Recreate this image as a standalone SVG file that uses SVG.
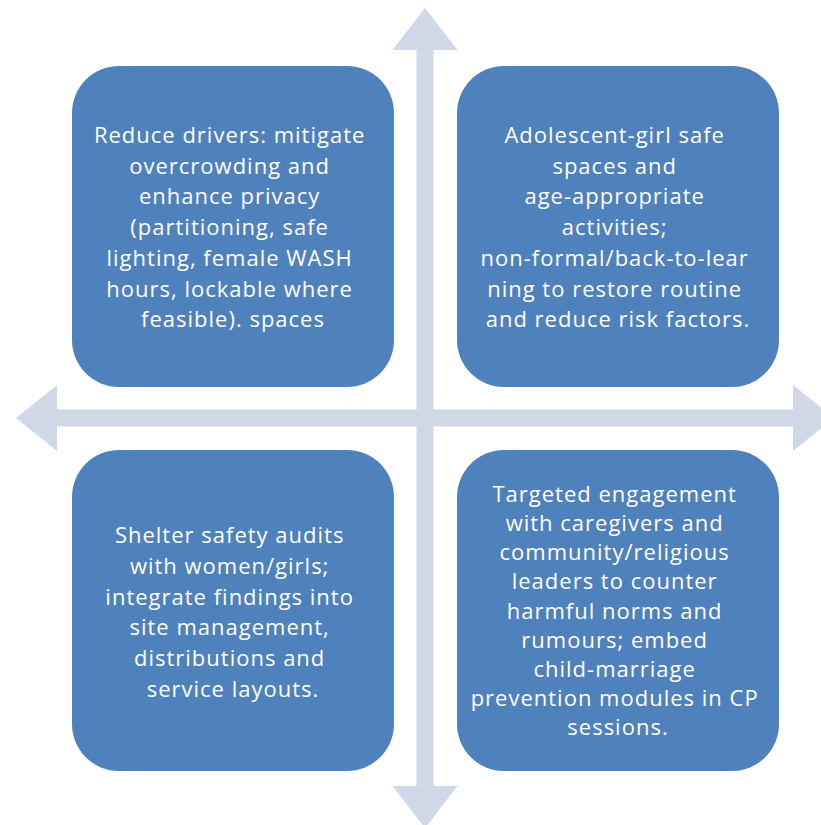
<svg xmlns="http://www.w3.org/2000/svg" width="821" height="825" viewBox="0 0 821 825">
  <style>
    .axis { fill: #D0D8E8; }
    .box { fill: #4F81BD; }
    .lbl { fill: #FFFFFF; font-family: "Open Sans", "Liberation Sans", sans-serif; font-size: 22px; letter-spacing: 1px; text-anchor: middle; }
  </style>
  <rect width="821" height="825" fill="#FFFFFF"/>
  <g id="connectors">
    <path class="axis" d="M425,8 L457.5,50 L433.5,50 L433.5,786 L457.5,786 L425,828 L392.5,786 L416.5,786 L416.5,50 L392.5,50 Z"/>
    <path class="axis" d="M16,418 L57,385 L57,409.5 L793,409.5 L793,385 L834,418 L793,451 L793,426.5 L57,426.5 L57,451 Z"/>
  </g>
  <g id="node-top-left">
    <rect class="box" x="72" y="66" width="322" height="321" rx="47" ry="47"/>
    <text class="lbl">
      <tspan x="233" y="143">Reduce drivers: mitigate</tspan>
      <tspan x="233" y="173.7">overcrowding and</tspan>
      <tspan x="233" y="204.4">enhance privacy</tspan>
      <tspan x="233" y="235.1">(partitioning, safe</tspan>
      <tspan x="233" y="265.8">lighting, female WASH</tspan>
      <tspan x="233" y="296.5">hours, lockable where</tspan>
      <tspan x="233" y="327.2">feasible). spaces</tspan>
    </text>
  </g>
  <g id="node-top-right">
    <rect class="box" x="457" y="66" width="322" height="321" rx="47" ry="47"/>
    <text class="lbl">
      <tspan x="618" y="143">Adolescent-girl safe</tspan>
      <tspan x="618" y="173.7">spaces and</tspan>
      <tspan x="618" y="204.4">age-appropriate</tspan>
      <tspan x="618" y="235.1">activities;</tspan>
      <tspan x="618" y="265.8">non-formal/back-to-lear</tspan>
      <tspan x="618" y="296.5">ning to restore routine</tspan>
      <tspan x="618" y="327.2">and reduce risk factors.</tspan>
    </text>
  </g>
  <g id="node-bottom-left">
    <rect class="box" x="72" y="450" width="322" height="321" rx="47" ry="47"/>
    <text class="lbl">
      <tspan x="233" y="543">Shelter safety audits</tspan>
      <tspan x="233" y="573.8">with women/girls;</tspan>
      <tspan x="233" y="604.6">integrate findings into</tspan>
      <tspan x="233" y="635.4">site management,</tspan>
      <tspan x="233" y="666.2">distributions and</tspan>
      <tspan x="233" y="697">service layouts.</tspan>
    </text>
  </g>
  <g id="node-bottom-right">
    <rect class="box" x="457" y="450" width="322" height="321" rx="47" ry="47"/>
    <text class="lbl">
      <tspan x="618" y="502">Targeted engagement</tspan>
      <tspan x="618" y="531.1">with caregivers and</tspan>
      <tspan x="618" y="560.3">community/religious</tspan>
      <tspan x="618" y="589.4">leaders to counter</tspan>
      <tspan x="618" y="618.5">harmful norms and</tspan>
      <tspan x="618" y="647.7">rumours; embed</tspan>
      <tspan x="618" y="676.8">child-marriage</tspan>
      <tspan x="618" y="705.9">prevention modules in CP</tspan>
      <tspan x="618" y="735">sessions.</tspan>
    </text>
  </g>
</svg>
